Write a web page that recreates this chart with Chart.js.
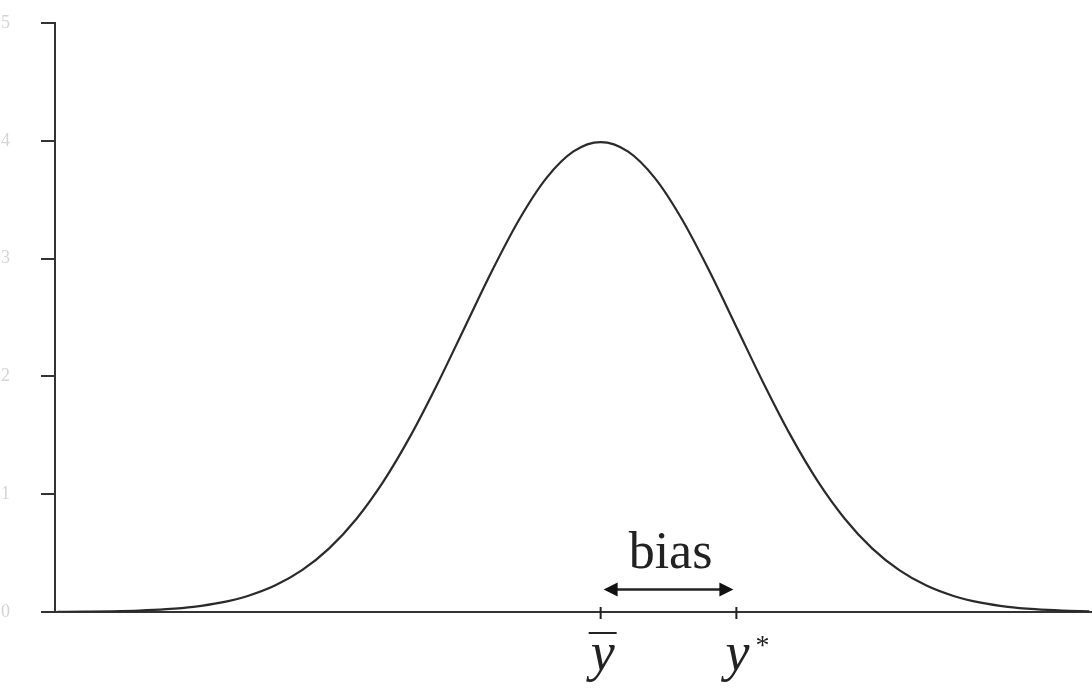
<!DOCTYPE html>
<html>
<head>
<meta charset="utf-8">
<script src="https://cdn.jsdelivr.net/npm/chart.js@4/dist/chart.umd.min.js"></script>
<style>
  html, body { margin: 0; padding: 0; background: #fff; }
  #wrap { width: 1092px; height: 692px; }
</style>
</head>
<body>
<div id="wrap"><canvas id="c" width="1092" height="692"></canvas></div>
<script>
// x positions (standardised) and density
const xValues = [-4.0,-3.8,-3.6,-3.4,-3.2,-3.0,-2.8,-2.6,-2.4,-2.2,-2.0,-1.8,-1.6,-1.4,-1.2,-1.0,-0.8,-0.6,-0.4,-0.2,
                 0.0,0.2,0.4,0.6,0.8,1.0,1.2,1.4,1.6,1.8,2.0,2.2,2.4,2.6,2.8,3.0,3.2,3.4,3.6];
const density = [0.0001,0.0003,0.0006,0.0012,0.0024,0.0044,0.0079,0.0136,0.0224,0.0355,0.0540,0.0790,0.1109,0.1497,0.1942,0.2420,0.2897,0.3332,0.3683,0.3910,
                 0.3989,0.3910,0.3683,0.3332,0.2897,0.2420,0.1942,0.1497,0.1109,0.0790,0.0540,0.0355,0.0224,0.0136,0.0079,0.0044,0.0024,0.0012,0.0006];
const yTicks = [0, 0.1, 0.2, 0.3, 0.4, 0.5];
const yTickLabels = ['0', '0.1', '0.2', '0.3', '0.4', '0.5'];
const markerValues = [0, 1];          // ȳ and y*
const markerNames = ['ȳ', 'y*'];
const biasLabel = 'bias';
const biasLevel = [0.019];            // height of the bias arrow (data units)

const points = xValues.map((x, i) => ({ x: x, y: density[i] }));

const annotate = {
  id: 'annotate',
  afterDraw(chart) {
    const ctx = chart.ctx;
    const xs = chart.scales.x, ys = chart.scales.y;
    const x0 = xs.getPixelForValue(markerValues[0]);
    const x1 = xs.getPixelForValue(markerValues[1]);
    const yb = ys.getPixelForValue(0);
    const ya = ys.getPixelForValue(biasLevel[0]);
    ctx.save();
    ctx.strokeStyle = '#222';
    ctx.fillStyle = '#111';
    // small tick marks crossing the axis
    ctx.lineWidth = 2;
    [x0, x1].forEach(px => {
      ctx.beginPath();
      ctx.moveTo(px, yb - 5);
      ctx.lineTo(px, yb + 7);
      ctx.stroke();
    });
    // bias arrow
    const l = x0 + 3, r = x1 - 3;
    ctx.lineWidth = 2.5;
    ctx.beginPath();
    ctx.moveTo(l + 10, ya);
    ctx.lineTo(r - 10, ya);
    ctx.stroke();
    ctx.beginPath();
    ctx.moveTo(l, ya); ctx.lineTo(l + 14, ya - 7); ctx.lineTo(l + 14, ya + 7); ctx.closePath(); ctx.fill();
    ctx.beginPath();
    ctx.moveTo(r, ya); ctx.lineTo(r - 14, ya - 7); ctx.lineTo(r - 14, ya + 7); ctx.closePath(); ctx.fill();
    // bias text
    ctx.font = '52px "Liberation Serif", "DejaVu Serif", serif';
    ctx.textAlign = 'center';
    ctx.textBaseline = 'alphabetic';
    ctx.fillStyle = '#222';
    ctx.fillText(biasLabel, (x0 + x1) / 2 + 2, ya - 22);
    // marker labels
    ctx.font = 'italic 54px "Liberation Serif", "DejaVu Serif", serif';
    const base = yb + 58;
    ctx.fillText('y', x0 + 2, base);
    ctx.lineWidth = 2;
    ctx.beginPath();
    ctx.moveTo(x0 - 12, yb + 21);
    ctx.lineTo(x0 + 16, yb + 21);
    ctx.stroke();
    ctx.fillText('y', x1 + 1, base);
    ctx.font = '28px "Liberation Serif", "DejaVu Serif", serif';
    ctx.fillText('*', x1 + 26, yb + 42);
    ctx.restore();
  }
};

new Chart(document.getElementById('c'), {
  type: 'line',
  data: {
    datasets: [{
      data: points,
      borderColor: '#2a2a2a',
      borderWidth: 2.2,
      pointRadius: 0,
      fill: false,
      cubicInterpolationMode: 'monotone'
    }]
  },
  options: {
    responsive: false,
    animation: false,
    events: [],
    layout: { padding: { top: 23, right: 0, bottom: 0, left: 0 } },
    plugins: { legend: { display: false }, tooltip: { enabled: false } },
    scales: {
      x: {
        type: 'linear',
        min: -4.02,
        max: 3.62,
        ticks: { display: false },
        grid: { display: false },
        border: { display: true, color: '#333', width: 2 },
        afterFit(scale) { scale.height = 80; scale.paddingLeft = 0; scale.paddingRight = 0; }
      },
      y: {
        type: 'linear',
        min: 0,
        max: 0.5,
        afterBuildTicks(scale) { scale.ticks = yTicks.map(v => ({ value: v })); },
        ticks: {
          padding: 31,
          color: '#d4d4d4',
          font: { size: 18, family: '"Liberation Serif", serif' },
          callback: (v, i) => yTickLabels[i]
        },
        grid: { drawOnChartArea: false, drawTicks: true, tickLength: 14, color: '#333', lineWidth: 2 },
        border: { display: true, color: '#333', width: 2 },
        afterFit(scale) { scale.width = 55; scale.paddingTop = 0; scale.paddingBottom = 0; }
      }
    }
  },
  plugins: [annotate]
});
</script>
</body>
</html>
